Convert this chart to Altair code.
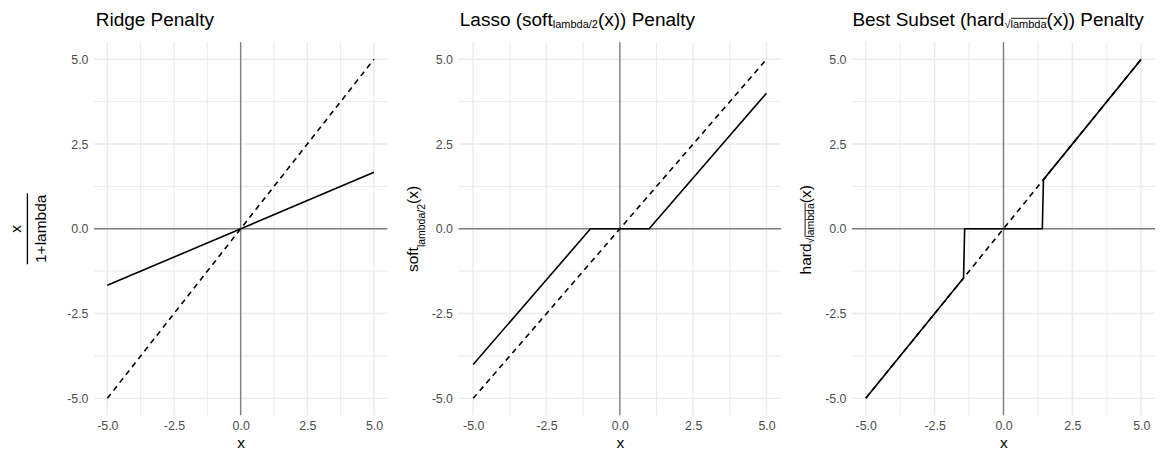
import altair as alt
import pandas as pd

# ---------------- data ----------------
major_ticks = [-5.0, -2.5, 0.0, 2.5, 5.0]
minor_ticks = [-3.75, -1.25, 1.25, 3.75]
zero_line = [0.0]
identity_x = [-5.0, 5.0]
identity_y = [-5.0, 5.0]
ridge_x = [-5.0, 5.0]
ridge_y = [-1.667, 1.667]
lasso_x = [-5.0, -1.0, 1.0, 5.0]
lasso_y = [-4.0, 0.0, 0.0, 4.0]
hard_x = [-5.0, -1.45, -1.41, 1.41, 1.45, 5.0]
hard_y = [-5.0, -1.45, 0.0, 0.0, 1.45, 5.0]

# ---------------- style ----------------
FONT = "Liberation Sans"
DOMAIN = [-5.5, 5.5]
H = 373
WIDTHS = [293.3, 322.7, 303.0]
TITLE_SIZE = 19
SUB_SIZE = 11
YT_SIZE = 15.5
YSUB_SIZE = 10.5
GRID = "#ebebeb"
ZERO = "#808080"

AW = {' ': 278, '(': 333, ')': 333, '/': 278, '+': 584, '.': 278, '1': 556, '2': 556,
      '\u221a': 549, 'B': 667, 'L': 556, 'P': 667, 'R': 722, 'S': 667, 'a': 556,
      'b': 556, 'd': 556, 'e': 556, 'f': 278, 'g': 556, 'h': 556, 'i': 222, 'l': 222,
      'm': 833, 'n': 556, 'o': 556, 'r': 333, 's': 500, 't': 278, 'u': 556, 'x': 500,
      'y': 500}


def tw(s, size):
    return sum(AW.get(c, 556) for c in s) * size / 1000.0


def one():
    return alt.Chart(pd.DataFrame({"k": [0]}))


def SC():
    return alt.Scale(domain=DOMAIN, nice=False, zero=False)


LABEL_EXPR = "(datum.value < 0 ? '-' : '') + format(abs(datum.value), '.1f')"

x_axis = alt.Axis(values=major_ticks, labelExpr=LABEL_EXPR, grid=False, domain=False,
                  ticks=False, labelFontSize=12.4, labelColor="#4d4d4d", labelPadding=4,
                  labelFlush=False, title="x", titleFontSize=15.5, titleFontWeight="normal",
                  titleColor="black", titlePadding=4, titleFont=FONT, labelFont=FONT)
y_axis = alt.Axis(values=major_ticks, labelExpr=LABEL_EXPR, grid=False, domain=False,
                  ticks=False, labelFontSize=12.4, labelColor="#4d4d4d", labelPadding=6,
                  labelFlush=False, title="", labelFont=FONT)


def XE(field):
    return alt.X(f"{field}:Q", scale=SC(), axis=x_axis)


def YE(field):
    return alt.Y(f"{field}:Q", scale=SC(), axis=y_axis)


def text_piece(t, x, y, size, angle=0, align="left"):
    kw = dict(text=t, fontSize=size, align=align, baseline="alphabetic", font=FONT,
              color="black")
    if angle:
        kw["angle"] = angle
    return one().mark_text(**kw).encode(x=alt.value(x), y=alt.value(y))


def hrule(x1, x2, y, w=1.0):
    return one().mark_rule(color="black", strokeWidth=w).encode(
        x=alt.value(x1), x2=alt.value(x2), y=alt.value(y))


def vrule(x, y1, y2, w=1.0):
    return one().mark_rule(color="black", strokeWidth=w).encode(
        x=alt.value(x), y=alt.value(y1), y2=alt.value(y2))


def title_layers(pieces, x0, y0):
    """pieces: list of (text, size, dy, overline)"""
    out = []
    x = x0
    for t, size, dy, over in pieces:
        out.append(text_piece(t, x, y0 + dy, size))
        w = tw(t, size)
        if over:
            out.append(hrule(x + 0.5, x + w + 0.5, y0 + dy - 9.3, 0.9))
        x += w
    return out


def ytitle_layers(pieces, xb, y0):
    """rotated title reading upward. pieces: (text, size, dx, overline)"""
    out = []
    y = y0
    for t, size, dx, over in pieces:
        out.append(text_piece(t, xb + dx, y, size, angle=270))
        w = tw(t, size)
        if over:
            out.append(vrule(xb + dx - 8.9, y - 0.5, y - w - 0.5, 0.9))
        y -= w
    return out


def panel(fx, fy, width, title_parts, ytitle_parts):
    minor_df = pd.DataFrame({"g": minor_ticks})
    major_df = pd.DataFrame({"g": major_ticks})
    zero_df = pd.DataFrame({"z": zero_line})
    grid_layers = [
        alt.Chart(minor_df).mark_rule(color=GRID, strokeWidth=1.0).encode(x=XE("g")),
        alt.Chart(minor_df).mark_rule(color=GRID, strokeWidth=1.0).encode(y=YE("g")),
        alt.Chart(major_df).mark_rule(color=GRID, strokeWidth=1.4).encode(x=XE("g")),
        alt.Chart(major_df).mark_rule(color=GRID, strokeWidth=1.4).encode(y=YE("g")),
        alt.Chart(zero_df).mark_rule(color=ZERO, strokeWidth=1.4).encode(x=XE("z")),
        alt.Chart(zero_df).mark_rule(color=ZERO, strokeWidth=1.4).encode(y=YE("z")),
    ]
    ident = alt.Chart(pd.DataFrame({"x": identity_x, "y": identity_y})).mark_line(
        color="black", strokeWidth=1.6, strokeDash=[5.5, 4.5]).encode(
        x=XE("x"), y=YE("y"))
    func = alt.Chart(pd.DataFrame({"x": fx, "y": fy})).mark_line(
        color="black", strokeWidth=1.6).encode(x=XE("x"), y=YE("y"))
    layers = grid_layers + [ident, func] + title_parts + ytitle_parts
    return alt.layer(*layers).properties(width=width, height=H)


TY = -16.7
MID = H / 2

# Panel 1: Ridge
p1_title = title_layers([("Ridge Penalty", TITLE_SIZE, 0, False)], 1.7, TY)
p1_ytitle = [
    text_piece("x", -73.5, MID, YT_SIZE, angle=270, align="center"),
    text_piece("1+lambda", -48.3, MID, YT_SIZE, angle=270, align="center"),
    vrule(-66.6, MID - 35.5, MID + 35.5, 1.3),
]
p1 = panel(ridge_x, ridge_y, WIDTHS[0], p1_title, p1_ytitle)

# Panel 2: Lasso
p2_title = title_layers([("Lasso (soft", TITLE_SIZE, 0, False),
                         ("lambda/2", SUB_SIZE, 2.5, False),
                         ("(x)) Penalty", TITLE_SIZE, 0, False)], 1.3, TY)
p2_ytitle = ytitle_layers([("soft", YT_SIZE, 0, False),
                           ("lambda/2", YSUB_SIZE, 6.3, False),
                           ("(x)", YT_SIZE, 0, False)], -40.3, MID + 43.3)
p2 = panel(lasso_x, lasso_y, WIDTHS[1], p2_title, p2_ytitle)

# Panel 3: Best subset
p3_title = title_layers([("Best Subset (hard", TITLE_SIZE, 0, False),
                         ("\u221a", SUB_SIZE, 2.0, False),
                         ("lambda", SUB_SIZE, 2.0, True),
                         ("(x)) Penalty", TITLE_SIZE, 0, False)], 0.4, TY)
p3_ytitle = ytitle_layers([("hard", YT_SIZE, 0, False),
                           ("\u221a", YSUB_SIZE, 3.0, False),
                           ("lambda", YSUB_SIZE, 3.0, True),
                           ("(x)", YT_SIZE, 0, False)], -41, MID + 45.6)
p3 = panel(hard_x, hard_y, WIDTHS[2], p3_title, p3_ytitle)

chart = alt.hconcat(p1, p2, p3, spacing=70.5, bounds="flush").properties(
    padding={"left": 0, "top": 2.3, "right": 0, "bottom": 0}
).configure(font=FONT).configure_view(stroke=None)

chart.save("out.html", embed_options={"renderer": "svg", "actions": False})
